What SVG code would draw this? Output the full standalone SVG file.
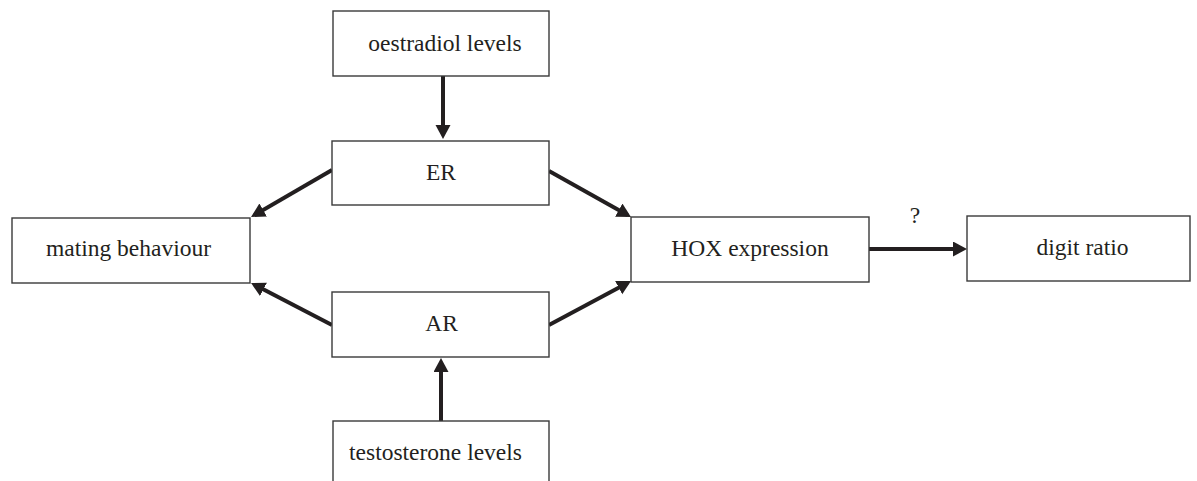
<svg xmlns="http://www.w3.org/2000/svg" width="1197" height="481" viewBox="0 0 1197 481">
<style>
.box{fill:#fff;stroke:#3a3a3a;stroke-width:1.4}
.lbl{font-family:"Liberation Serif","Times New Roman",serif;font-size:23.5px;fill:#231f20;text-anchor:middle}
.arr{stroke:#231f20;stroke-width:4;fill:none;marker-end:url(#ah)}
</style>
<defs>
<marker id="ah" markerUnits="userSpaceOnUse" markerWidth="16" markerHeight="16" refX="10" refY="7.5" orient="auto" viewBox="0 0 16 16">
<path d="M0,0 L14,7.5 L0,15 z" fill="#231f20"/>
</marker>
</defs>
<rect width="1197" height="481" fill="#fff"/>
<g id="connectors">
<line class="arr" x1="443" y1="76" x2="443" y2="135"/>
<line class="arr" x1="332" y1="170" x2="254.5" y2="215"/>
<line class="arr" x1="549" y1="171" x2="627.5" y2="215"/>
<line class="arr" x1="332" y1="325" x2="254.6" y2="284.8"/>
<line class="arr" x1="549" y1="325" x2="627.5" y2="282.9"/>
<line class="arr" x1="441" y1="421" x2="441" y2="362"/>
<line class="arr" x1="869" y1="249" x2="963" y2="249"/>
<text class="lbl" x="915" y="223">?</text>
</g>
<g id="oestradiol">
<rect class="box" x="333" y="11" width="216" height="65"/>
<text class="lbl" x="445" y="51">oestradiol levels</text>
</g>
<g id="er">
<rect class="box" x="332" y="141" width="217" height="64"/>
<text class="lbl" x="441" y="180">ER</text>
</g>
<g id="ar">
<rect class="box" x="332" y="292" width="217" height="65"/>
<text class="lbl" x="441.5" y="331">AR</text>
</g>
<g id="testosterone">
<rect class="box" x="333" y="421" width="216" height="80"/>
<text class="lbl" x="435.5" y="460">testosterone levels</text>
</g>
<g id="mating">
<rect class="box" x="12" y="218" width="238" height="65"/>
<text class="lbl" x="128.5" y="256">mating behaviour</text>
</g>
<g id="hox">
<rect class="box" x="631" y="217" width="238" height="65"/>
<text class="lbl" x="750" y="256">HOX expression</text>
</g>
<g id="digit">
<rect class="box" x="967" y="216" width="223" height="65"/>
<text class="lbl" x="1082.5" y="255">digit ratio</text>
</g>
</svg>
